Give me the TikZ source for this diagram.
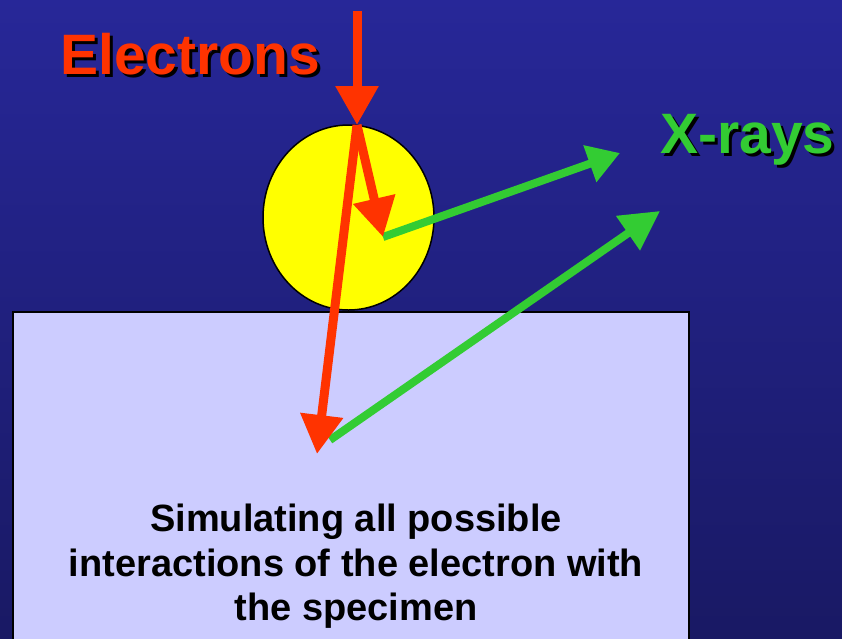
\documentclass[tikz,border=0pt]{standalone}
\usepackage{fontspec}
\setmainfont{Liberation Sans}
\usetikzlibrary{arrows.meta,shapes.geometric}
\definecolor{bgtop}{RGB}{39,39,152}
\definecolor{bgbot}{RGB}{25,25,100}
\definecolor{elred}{RGB}{255,51,0}
\definecolor{xgreen}{RGB}{51,204,51}
\definecolor{specimen}{RGB}{204,204,255}
\definecolor{pureyellow}{RGB}{255,255,0}
\newcommand{\shadowtext}[1]{\makebox[0pt][l]{\kern3pt\raisebox{-3pt}{\color{black}#1}}#1}
\tikzset{
  redarrow/.style={draw=elred, line width=9pt, -{Triangle[length=39pt,width=41pt]}},
  greenarrow/.style={draw=xgreen, line width=8pt, -{Triangle[length=#1]}},
  bigtext/.style={font=\fontsize{57}{60}\selectfont\bfseries, inner sep=0pt, anchor=base west},
}
\begin{document}
\begin{tikzpicture}[x=1pt,y=-1pt]
\useasboundingbox (0,0) rectangle (842,638);
\clip (0,0) rectangle (842,638);
\shade[top color=bgtop, bottom color=bgbot] (0,0) rectangle (842,638);
% specimen block
\node[draw=black, line width=2pt, fill=specimen, rectangle, minimum width=676pt, minimum height=360pt, inner sep=0pt, anchor=north west] (block) at (12,311) {};
% particle
\node[draw=black, line width=1.5pt, fill=pureyellow, ellipse, minimum width=171pt, minimum height=185pt, inner sep=0pt] (particle) at (348.5,217.5) {};
% labels
\node[bigtext, text=elred] (electrons) at (60,74) {\shadowtext{Electrons}};
\node[bigtext, text=xgreen] (xrays) at (660,153) {\shadowtext{X-rays}};
\node[font=\fontsize{38}{44.5}\selectfont\bfseries, align=center, inner sep=0pt, anchor=north] (caption) at (356,504) {Simulating all possible\\interactions of the electron with\\the specimen};
% points
\coordinate (src) at (357,11);
\coordinate (hit) at (357,125);
\coordinate (scatter) at (383,237);
\coordinate (deep) at (317,454);
\coordinate (x1end) at (620,153);
\coordinate (x2start) at (330,440);
\coordinate (x2end) at (660,211);
% green x-rays
\draw[greenarrow={32pt,width=37pt}] (scatter) -- (x1end);
\draw[greenarrow={39pt,width=40pt}] (x2start) -- (x2end);
% red electrons
\draw[redarrow] (src) -- (hit);
\draw[redarrow] (hit) -- (deep);
\draw[redarrow] (hit) -- (scatter);
\end{tikzpicture}
\end{document}
